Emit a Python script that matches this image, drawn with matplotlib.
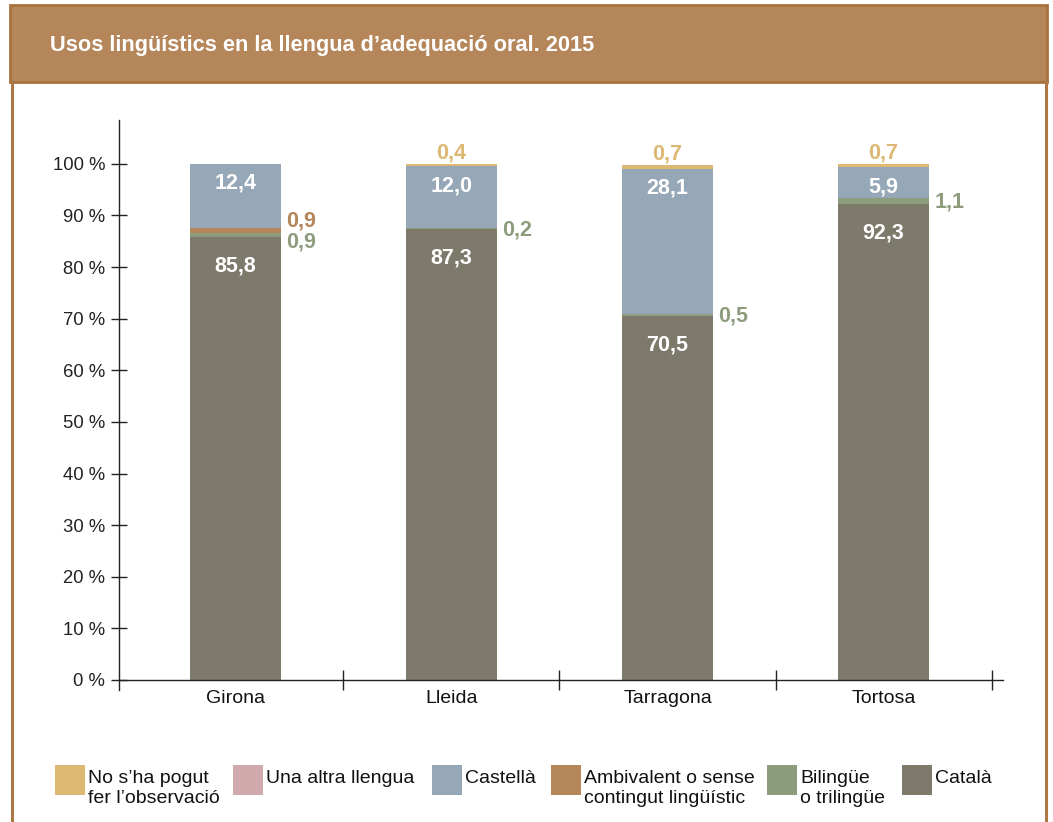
import numpy as np
import matplotlib
matplotlib.use('Agg')
import matplotlib.pyplot as plt
from matplotlib.patches import Rectangle
from matplotlib.lines import Line2D

plt.rcParams['font.family'] = ['Liberation Sans', 'DejaVu Sans']

# Dades (percentatges per servei territorial)
llocs = ['Girona', 'Lleida', 'Tarragona', 'Tortosa']
catala = [85.8, 87.3, 70.5, 92.3]
bilingue = [0.9, 0.2, 0.5, 1.1]
ambivalent = [0.9, 0.0, 0.0, 0.0]
castella = [12.4, 12.0, 28.1, 5.9]
altra = [0.0, 0.0, 0.0, 0.0]
no_observ = [0.0, 0.4, 0.7, 0.7]
ticks_y = [0, 10, 20, 30, 40, 50, 60, 70, 80, 90, 100]

# Colors
c_groc = '#DDB872'
c_rosa = '#CFA9AC'
c_blau = '#96A8B8'
c_marro = '#B5865A'
c_verd = '#8E9C7E'
c_gris = '#7D7A6C'
c_vora = '#AE7846'

W, H = 1053, 822
fig = plt.figure(figsize=(W / 100, H / 100), dpi=100)


def fx(px):
    return px / W


def fy(py):
    return 1 - py / H


def coma(v):
    return f'{v:.1f}'.replace('.', ',')


# capçalera i marc
fig.add_artist(Rectangle((fx(10), fy(82)), fx(1047) - fx(10), fy(5) - fy(82),
                         transform=fig.transFigure, facecolor=c_marro,
                         edgecolor='#A8713F', linewidth=2))
fig.text(fx(50), fy(45), 'Usos lingüístics en la llengua d’adequació oral. 2015',
         color='white', fontsize=15.7, fontweight='bold', va='center', ha='left')
for xp in (11.5, 1045.5):
    fig.add_artist(Line2D([fx(xp), fx(xp)], [fy(82), 0], transform=fig.transFigure,
                          color=c_vora, linewidth=2.2))

ax = fig.add_axes([fx(119), fy(690), fx(1003) - fx(119), (690 - 120) / H])
x = np.arange(len(llocs))
w = 0.42
fs_val = 15.5

series = [(catala, c_gris), (bilingue, c_verd), (ambivalent, c_marro),
          (castella, c_blau), (altra, c_rosa), (no_observ, c_groc)]
base = np.zeros(len(llocs))
for vals, col in series:
    ax.bar(x, vals, w, bottom=base, color=col, linewidth=0)
    base = base + np.array(vals)

# etiquetes
for i in range(len(llocs)):
    # Català
    ax.text(x[i], catala[i] - 5.6, coma(catala[i]), color='white', fontsize=fs_val,
            fontweight='bold', ha='center', va='center')
    # Castellà
    top_c = catala[i] + bilingue[i] + ambivalent[i] + castella[i]
    ax.text(x[i], top_c - 3.7, coma(castella[i]), color='white', fontsize=fs_val,
            fontweight='bold', ha='center', va='center')
    # Bilingüe i ambivalent, fora de la barra
    both = ambivalent[i] > 0
    if bilingue[i] > 0:
        yv = catala[i] + bilingue[i] / 2
        ax.annotate(coma(bilingue[i]), (x[i] + w / 2, yv),
                    xytext=(4, -5.5 if both else -1), textcoords='offset points',
                    color=c_verd, fontsize=fs_val, fontweight='bold',
                    ha='left', va='center')
    if ambivalent[i] > 0:
        yv = catala[i] + bilingue[i] + ambivalent[i] / 2
        ax.annotate(coma(ambivalent[i]), (x[i] + w / 2, yv),
                    xytext=(4, 6.5), textcoords='offset points',
                    color=c_marro, fontsize=fs_val, fontweight='bold',
                    ha='left', va='center')
    # No s'ha pogut fer l'observació
    if no_observ[i] > 0:
        ax.annotate(coma(no_observ[i]), (x[i], base[i]),
                    xytext=(0, 8), textcoords='offset points',
                    color=c_groc, fontsize=fs_val, fontweight='bold',
                    ha='center', va='center')

ax.set_xlim(-0.539, 3.553)
ax.set_ylim(-1.94, 108.5)
ax.spines['top'].set_visible(False)
ax.spines['right'].set_visible(False)
ax.spines['bottom'].set_position(('data', 0))
for s in ('left', 'bottom'):
    ax.spines[s].set_linewidth(1)
    ax.spines[s].set_color('#222222')

ax.set_yticks(ticks_y)
ax.set_yticklabels([f'{t} %' for t in ticks_y], fontsize=13.3)
ax.tick_params(axis='y', direction='inout', length=11.5, width=1, pad=4.3,
               colors='#222222')

ax.set_xticks(x + 0.5)
ax.set_xticklabels([])
ax.tick_params(axis='x', which='major', direction='inout', length=13.7, width=1,
               colors='#222222')
ax.set_xticks(x, minor=True)
ax.set_xticklabels(llocs, minor=True, fontsize=14)
ax.tick_params(axis='x', which='minor', length=0, pad=7.5, labelcolor='#111111')

# llegenda
ley_labels = ['No s’ha pogut\nfer l’observació', 'Una altra llengua', 'Castellà',
              'Ambivalent o sense\ncontingut lingüístic', 'Bilingüe\no trilingüe', 'Català']
ley_cols = [c_groc, c_rosa, c_blau, c_marro, c_verd, c_gris]
ley_x = [55, 233, 432, 551, 767, 902]
for lx, lab, col in zip(ley_x, ley_labels, ley_cols):
    fig.add_artist(Rectangle((fx(lx), fy(795)), fx(30), 30 / H,
                             transform=fig.transFigure, facecolor=col, linewidth=0))
    fig.text(fx(lx + 33), fy(770), lab, fontsize=14, va='top', ha='left',
             linespacing=1.2, color='#111111')

fig.savefig('out.png', dpi=100)
